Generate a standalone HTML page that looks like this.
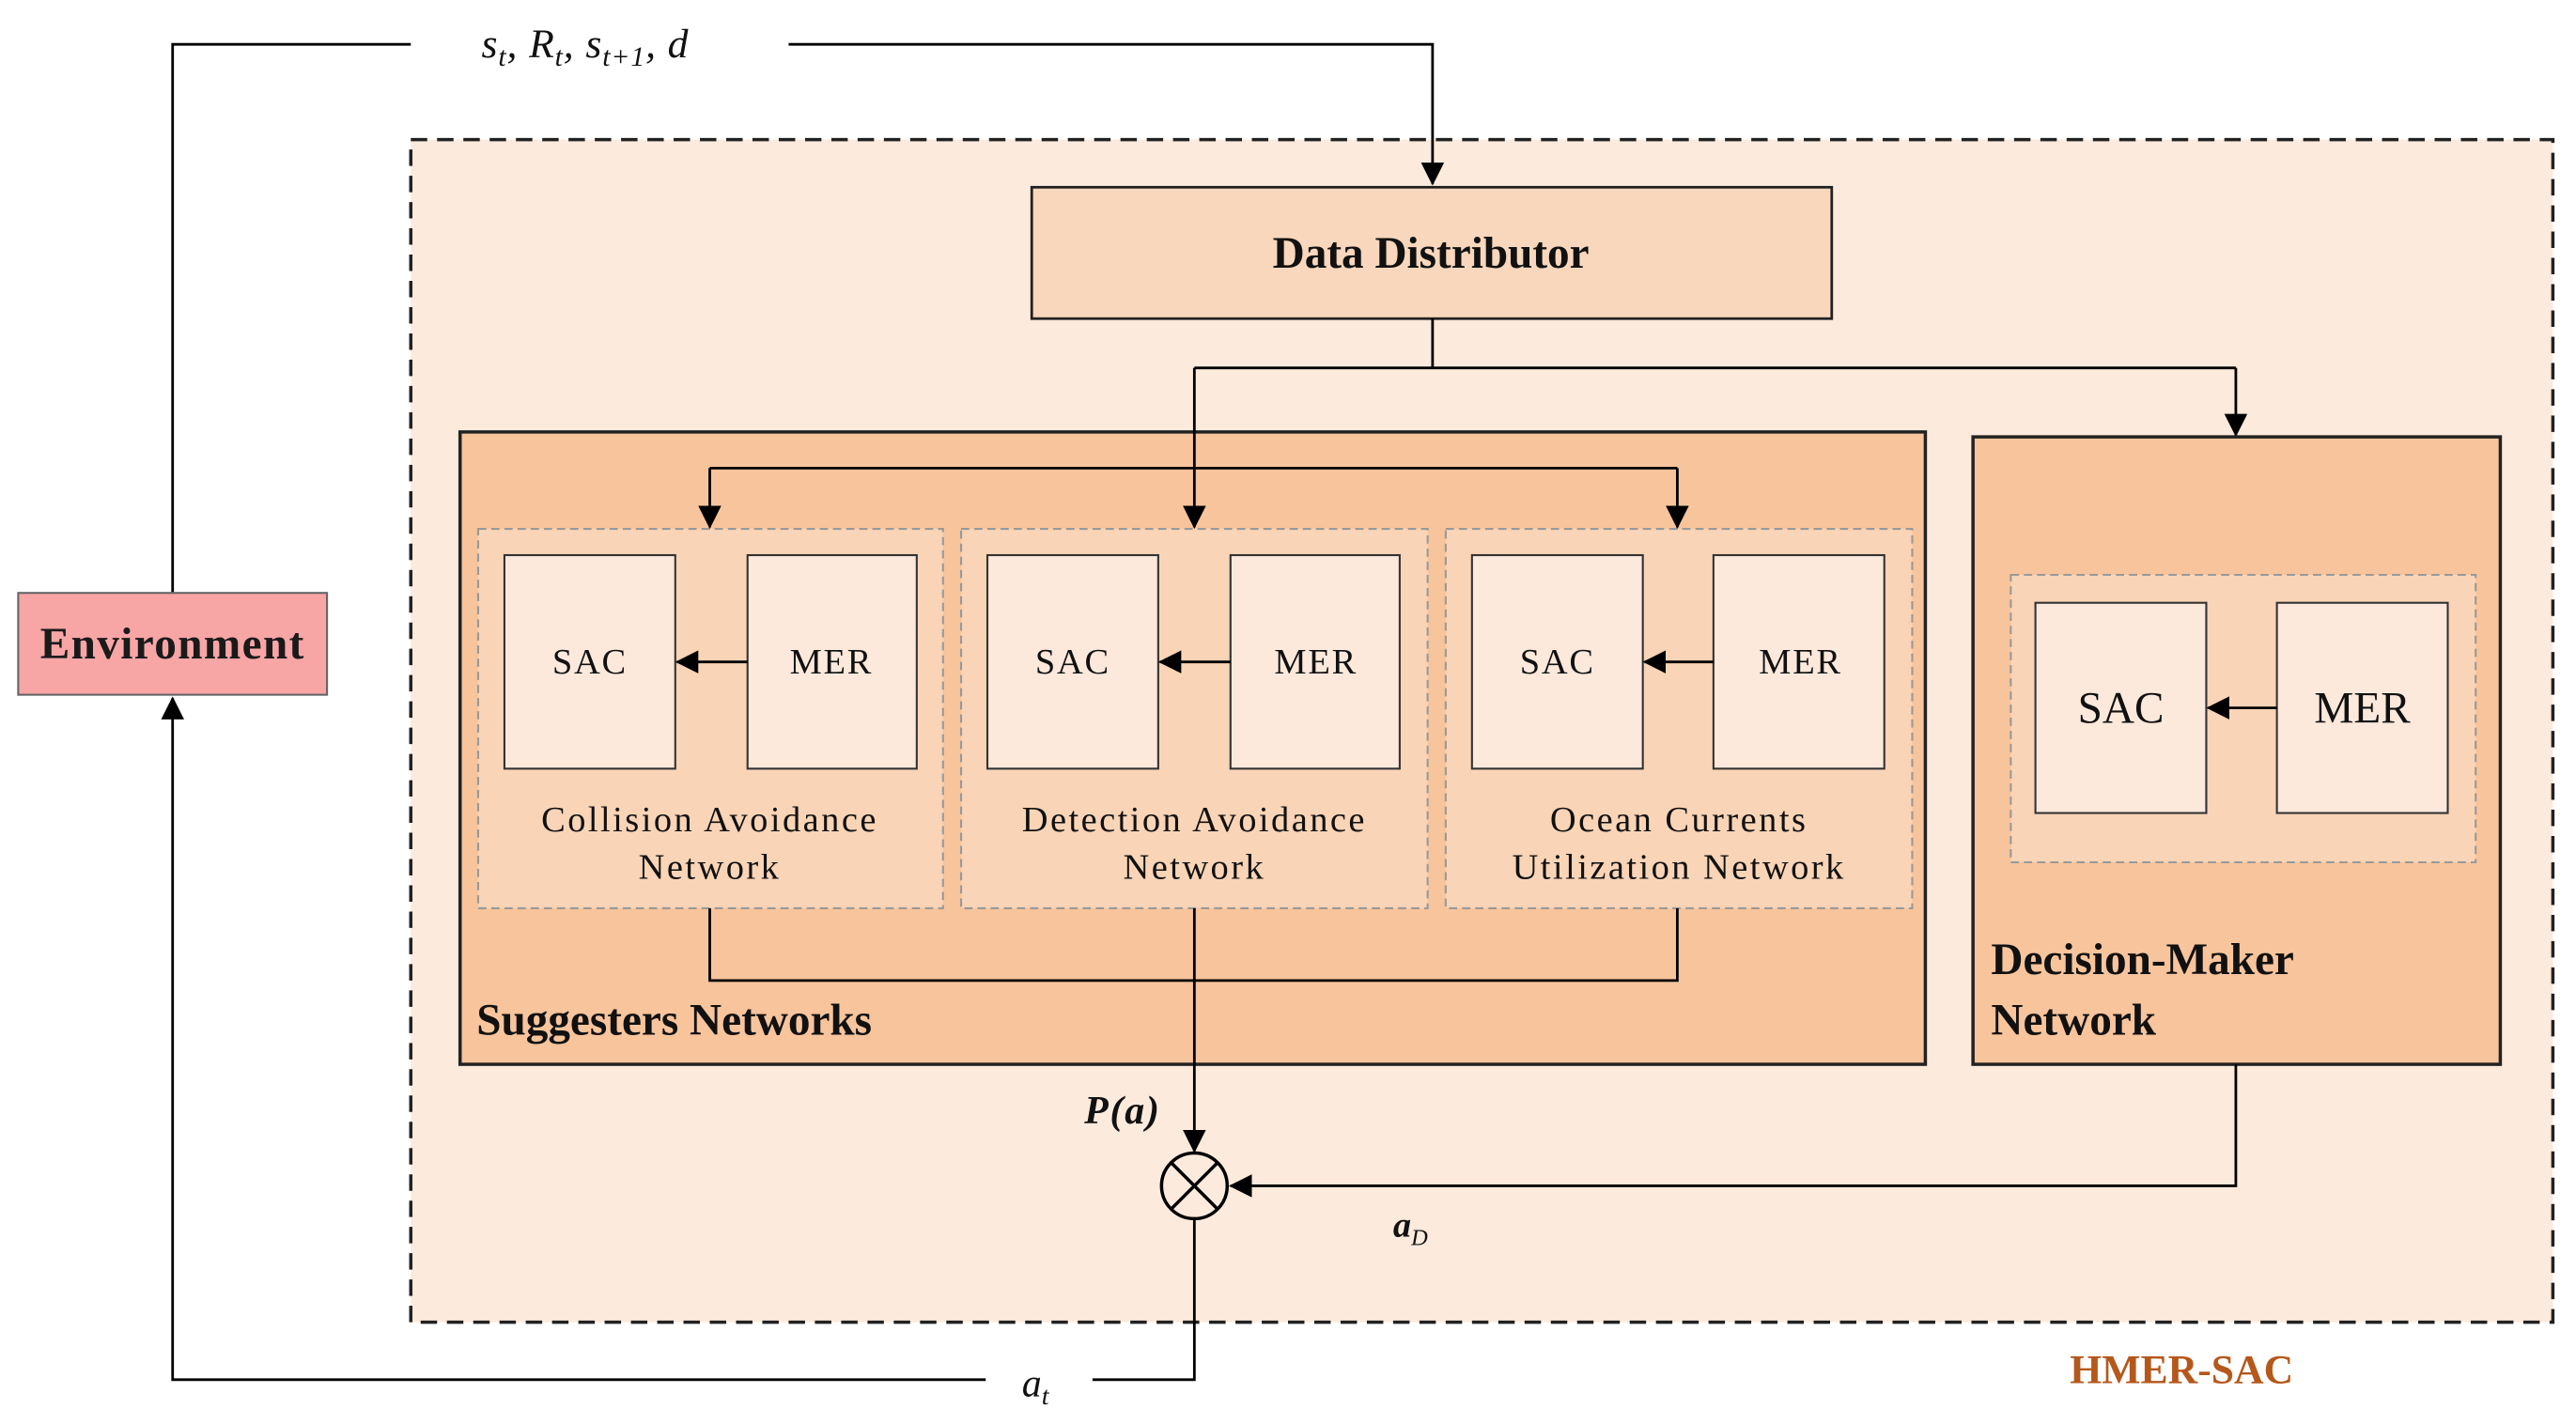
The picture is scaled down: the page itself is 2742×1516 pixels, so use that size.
<!DOCTYPE html>
<html><head><meta charset="utf-8"><style>
html,body{margin:0;padding:0;background:#fff;}
svg{display:block;}
text{font-family:"Liberation Serif",serif;fill:#111;}
</style></head><body>
<svg width="2742" height="1516" viewBox="0 0 1568 867" xmlns="http://www.w3.org/2000/svg">
<defs>
<marker id="ar2" markerWidth="14" markerHeight="14" refX="13" refY="7" orient="auto" markerUnits="userSpaceOnUse">
<path d="M0,0 L14,7 L0,14 z" fill="#000"/></marker>
</defs>
<rect x="250" y="85" width="1304" height="720" fill="#fceadc" stroke="#222" stroke-width="2" stroke-dasharray="10,6"/>
<polyline points="105,361 105,27 250,27" fill="none" stroke="#000" stroke-width="1.6"/>
<polyline points="480,27 872,27 872,112" fill="none" stroke="#000" stroke-width="1.6" marker-end="url(#ar2)"/>
<text x="293" y="35" font-size="25" font-style="italic" letter-spacing="0.5">s<tspan font-size="17" dy="5">t</tspan><tspan dy="-5">, R</tspan><tspan font-size="17" dy="5">t</tspan><tspan dy="-5">, s</tspan><tspan font-size="17" dy="5">t+1</tspan><tspan dy="-5">, d</tspan></text>
<rect x="628" y="114" width="487" height="80" fill="#f9d7bc" stroke="#222" stroke-width="1.6"/>
<text x="871" y="163" font-size="27" font-weight="bold" text-anchor="middle">Data Distributor</text>
<polyline points="872,194 872,224" fill="none" stroke="#000" stroke-width="1.6"/>
<polyline points="727,224 1361,224" fill="none" stroke="#000" stroke-width="1.6"/>
<line x1="1361" y1="224" x2="1361" y2="265" stroke="#000" stroke-width="1.6" marker-end="url(#ar2)"/>
<rect x="280" y="263" width="892" height="385" fill="#f8c49c" stroke="#222" stroke-width="2"/>
<text x="290" y="630" font-size="27" font-weight="bold">Suggesters Networks</text>
<g fill="#f9d4b6" stroke="#999" stroke-width="1.2" stroke-dasharray="5,3">
<rect x="291" y="322" width="283" height="231"/>
<rect x="585" y="322" width="284" height="231"/>
<rect x="880" y="322" width="284" height="231"/>
</g>
<line x1="727" y1="224" x2="727" y2="321" stroke="#000" stroke-width="1.6" marker-end="url(#ar2)"/>
<polyline points="432,285 1021,285" fill="none" stroke="#000" stroke-width="1.6"/>
<line x1="432" y1="285" x2="432" y2="321" stroke="#000" stroke-width="1.6" marker-end="url(#ar2)"/>
<line x1="1021" y1="285" x2="1021" y2="321" stroke="#000" stroke-width="1.6" marker-end="url(#ar2)"/>
<g fill="#fce9dc" stroke="#333" stroke-width="1.2">
<rect x="307" y="338" width="104" height="130"/><rect x="455" y="338" width="103" height="130"/>
<rect x="601" y="338" width="104" height="130"/><rect x="749" y="338" width="103" height="130"/>
<rect x="896" y="338" width="104" height="130"/><rect x="1043" y="338" width="104" height="130"/>
</g>
<g font-size="22" text-anchor="middle" letter-spacing="1">
<text x="359" y="410">SAC</text><text x="506" y="410">MER</text>
<text x="653" y="410">SAC</text><text x="801" y="410">MER</text>
<text x="948" y="410">SAC</text><text x="1096" y="410">MER</text>
</g>
<g font-size="22" text-anchor="middle" letter-spacing="1.4">
<text x="432" y="506">Collision Avoidance</text><text x="432" y="535">Network</text>
<text x="727" y="506">Detection Avoidance</text><text x="727" y="535">Network</text>
<text x="1022" y="506">Ocean Currents</text><text x="1022" y="535">Utilization Network</text>
</g>
<g stroke="#000" stroke-width="1.6">
<line x1="455" y1="403" x2="412" y2="403" marker-end="url(#ar2)"/>
<line x1="749" y1="403" x2="706" y2="403" marker-end="url(#ar2)"/>
<line x1="1043" y1="403" x2="1001" y2="403" marker-end="url(#ar2)"/>
</g>
<polyline points="432,553 432,597 1021,597 1021,553" fill="none" stroke="#000" stroke-width="1.6"/>
<line x1="727" y1="553" x2="727" y2="701" stroke="#000" stroke-width="1.6" marker-end="url(#ar2)"/>
<text x="660" y="684" font-size="24" font-weight="bold" font-style="italic" letter-spacing="1">P(a)</text>
<rect x="1201" y="266" width="321" height="382" fill="#f8c49c" stroke="#222" stroke-width="2"/>
<rect x="1224" y="350" width="283" height="175" fill="#f9d4b6" stroke="#999" stroke-width="1.2" stroke-dasharray="5,3"/>
<rect x="1239" y="367" width="104" height="128" fill="#fce9dc" stroke="#333" stroke-width="1.2"/>
<rect x="1386" y="367" width="104" height="128" fill="#fce9dc" stroke="#333" stroke-width="1.2"/>
<text x="1291" y="440" font-size="27" text-anchor="middle">SAC</text>
<text x="1438" y="440" font-size="27" text-anchor="middle">MER</text>
<line x1="1386" y1="431" x2="1344" y2="431" stroke="#000" stroke-width="1.6" marker-end="url(#ar2)"/>
<text x="1212" y="593" font-size="27" font-weight="bold">Decision-Maker</text>
<text x="1212" y="630" font-size="27" font-weight="bold">Network</text>
<polyline points="1361,648 1361,722 749,722" fill="none" stroke="#000" stroke-width="1.6" marker-end="url(#ar2)"/>
<text x="848" y="753" font-size="22" font-weight="bold" font-style="italic">a<tspan font-size="14" dy="5" font-weight="normal">D</tspan></text>
<circle cx="727" cy="722" r="20" fill="none" stroke="#000" stroke-width="2"/>
<line x1="713" y1="708" x2="741" y2="736" stroke="#000" stroke-width="2"/>
<line x1="741" y1="708" x2="713" y2="736" stroke="#000" stroke-width="2"/>
<polyline points="727,742 727,840 665,840" fill="none" stroke="#000" stroke-width="1.6"/>
<polyline points="600,840 105,840 105,425" fill="none" stroke="#000" stroke-width="1.6" marker-end="url(#ar2)"/>
<text x="622" y="850" font-size="24" font-style="italic">a<tspan font-size="16" dy="5">t</tspan></text>
<rect x="11" y="361" width="188" height="62" fill="#f8a5a5" stroke="#666" stroke-width="1.2"/>
<text x="105" y="401" font-size="27" text-anchor="middle" letter-spacing="0.8" font-weight="bold" style="fill:#1a1a1a">Environment</text>
<text x="1328" y="842" font-size="25" font-weight="bold" text-anchor="middle" style="fill:#b5581c">HMER-SAC</text>
</svg>
</body></html>
